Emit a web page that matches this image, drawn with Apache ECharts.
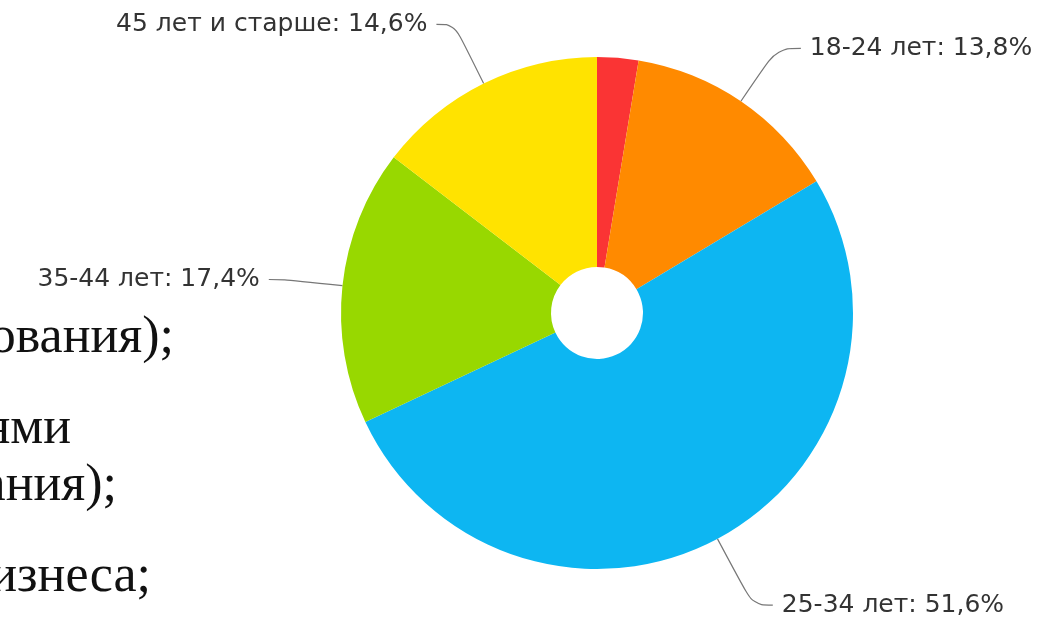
<!DOCTYPE html>
<html>
<head>
<meta charset="utf-8">
<script src="https://cdn.jsdelivr.net/npm/echarts@6/dist/echarts.min.js"></script>
<style>
  html, body { margin: 0; padding: 0; background: #fff; }
  #chart { width: 1062px; height: 618px; }
</style>
</head>
<body>
<div id="chart"></div>
<script>
// возрастные группы, по часовой стрелке от верха
const categories = ['до 18 лет', '18-24 лет', '25-34 лет', '35-44 лет', '45 лет и старше'];
const shares = [2.6, 13.8, 51.6, 17.4, 14.6];
const colors = ['#fa3434', '#ff8a00', '#0db6f2', '#98d800', '#ffe300'];
const showLabel = [false, true, true, true, true];
// длины выносных линий
const lineLen = [60, 64, 75, 58, 66];
const lineLen2 = [18, 24, 20, 16, 18];

// обрезанный текст слайда слева
const slideLines = ['ования);', 'ями', 'ания);', 'изнеса;'];
const slideRight = [174, 71, 117, 151];
const slideY = [338, 429, 486, 577];

const chart = echarts.init(document.getElementById('chart'));

const fmt = v => String(v).replace('.', ',');

chart.setOption({
  animation: false,
  graphic: slideLines.map((t, i) => ({
    type: 'text',
    x: slideRight[i],
    y: slideY[i],
    style: {
      text: t,
      font: '52px "Liberation Serif"',
      fill: '#111',
      align: 'right',
      verticalAlign: 'middle'
    }
  })),
  series: [
    {
      type: 'pie',
      center: [597, 313],
      radius: [46, 256],
      startAngle: 90,
      avoidLabelOverlap: false,
      label: {
        formatter: p => p.name + ': ' + fmt(p.value) + '%',
        fontFamily: 'DejaVu Sans',
        fontSize: 25,
        color: '#333',
        distanceToLabelLine: 9
      },
      labelLine: {
        smooth: 0.4,
        lineStyle: { color: '#777', width: 1.2 }
      },
      data: categories.map((c, i) => ({
        name: c,
        value: shares[i],
        itemStyle: { color: colors[i] },
        label: { show: showLabel[i] },
        labelLine: { show: showLabel[i], length: lineLen[i], length2: lineLen2[i] }
      }))
    }
  ]
});
</script>
</body>
</html>
